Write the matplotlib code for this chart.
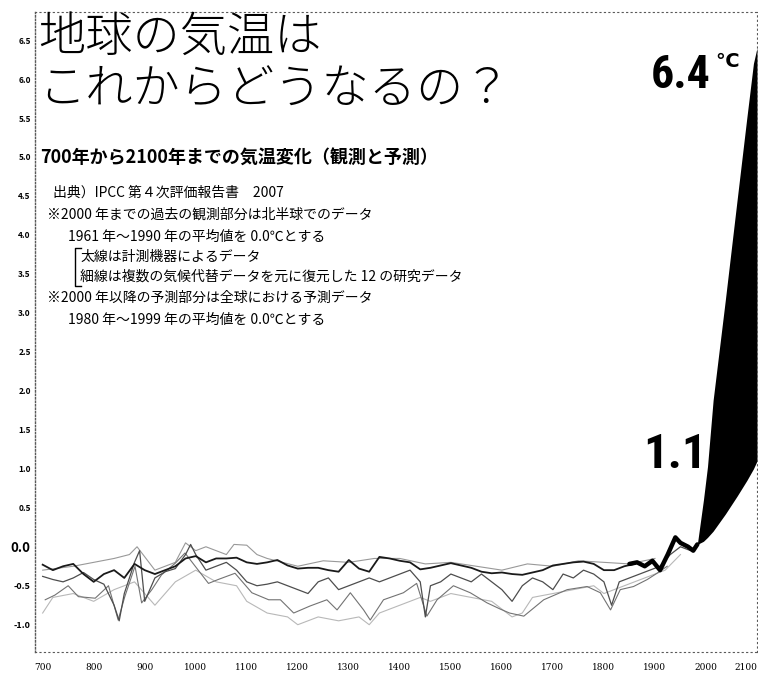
import matplotlib.pyplot as plt
from matplotlib.lines import Line2D

plt.rcParams['font.family'] = ['Noto Sans CJK JP', 'DejaVu Sans']

W, H = 758, 676

# reconstructions (years, degC)
years_a = list(range(700, 1861, 20))
temp_a = [-0.23, -0.30, -0.25, -0.22, -0.35, -0.45, -0.35, -0.30, -0.40, -0.22,
          -0.30, -0.35, -0.30, -0.25, -0.15, -0.12, -0.20, -0.15, -0.15, -0.14,
          -0.20, -0.22, -0.20, -0.17, -0.24, -0.28, -0.27, -0.27, -0.30, -0.32,
          -0.17, -0.28, -0.32, -0.13, -0.15, -0.18, -0.20, -0.29, -0.27, -0.24,
          -0.21, -0.24, -0.27, -0.32, -0.34, -0.33, -0.35, -0.36, -0.33, -0.30,
          -0.24, -0.22, -0.20, -0.19, -0.22, -0.30, -0.30, -0.25, -0.22]

years_b = [705, 724, 750, 770, 803, 829, 842, 848, 861, 881, 894, 914, 933, 960,
           979, 999, 1025, 1044, 1077, 1110, 1143, 1166, 1192, 1224, 1257, 1277,
           1303, 1329, 1342, 1368, 1407, 1433, 1453, 1473, 1505, 1538, 1571, 1597,
           1615, 1643, 1682, 1728, 1767, 1793, 1813, 1832, 1858, 1885, 1904, 1924]
temp_b = [-0.68, -0.62, -0.50, -0.64, -0.66, -0.50, -0.80, -0.94, -0.64, -0.25,
          -0.72, -0.55, -0.36, -0.21, -0.08, -0.25, -0.47, -0.42, -0.34, -0.59,
          -0.68, -0.68, -0.85, -0.76, -0.68, -0.81, -0.59, -0.81, -0.94, -0.68,
          -0.59, -0.47, -0.89, -0.68, -0.50, -0.59, -0.72, -0.80, -0.85, -0.89,
          -0.68, -0.55, -0.51, -0.59, -0.81, -0.55, -0.51, -0.42, -0.34, -0.25]

years_c = [700, 720, 740, 760, 780, 800, 820, 840, 850, 860, 880, 890, 900, 920,
           940, 960, 980, 990, 1000, 1020, 1040, 1060, 1080, 1100, 1120, 1140,
           1160, 1180, 1200, 1220, 1240, 1260, 1280, 1300, 1320, 1340, 1360, 1380,
           1400, 1420, 1440, 1450, 1460, 1480, 1500, 1520, 1540, 1560, 1580, 1600,
           1620, 1640, 1660, 1680, 1700, 1720, 1740, 1760, 1780, 1800, 1815, 1830,
           1850, 1870, 1890, 1910, 1930, 1950, 1970, 1980]
temp_c = [-0.38, -0.42, -0.45, -0.40, -0.33, -0.42, -0.48, -0.75, -0.95, -0.60,
          -0.20, -0.05, -0.70, -0.40, -0.32, -0.28, -0.10, 0.03, -0.10, -0.30,
          -0.25, -0.20, -0.30, -0.45, -0.50, -0.48, -0.45, -0.50, -0.55, -0.60,
          -0.45, -0.40, -0.55, -0.50, -0.45, -0.40, -0.45, -0.40, -0.35, -0.30,
          -0.45, -0.90, -0.50, -0.45, -0.35, -0.40, -0.45, -0.35, -0.45, -0.55,
          -0.70, -0.50, -0.40, -0.45, -0.55, -0.35, -0.40, -0.30, -0.35, -0.45,
          -0.75, -0.45, -0.40, -0.35, -0.30, -0.25, -0.10, 0.00, -0.05, 0.00]

years_d = [700, 760, 800, 840, 870, 885, 920, 960, 980, 1000, 1020, 1040, 1060,
           1075, 1100, 1120, 1140, 1200, 1250, 1300, 1350, 1400, 1450, 1500, 1550,
           1600, 1650, 1700, 1750, 1800, 1850, 1900]
temp_d = [-0.30, -0.25, -0.20, -0.15, -0.10, 0.00, -0.30, -0.20, 0.05, -0.05,
          0.00, -0.05, -0.10, 0.03, 0.02, -0.10, -0.15, -0.25, -0.18, -0.20,
          -0.15, -0.15, -0.22, -0.20, -0.25, -0.30, -0.22, -0.25, -0.18, -0.20,
          -0.22, -0.15]

years_e = [700, 720, 760, 800, 840, 880, 920, 960, 1000, 1040, 1080, 1100, 1140,
           1180, 1200, 1240, 1280, 1320, 1340, 1360, 1380, 1400, 1440, 1460, 1500,
           1540, 1580, 1620, 1640, 1660, 1700, 1740, 1780, 1800, 1840, 1880, 1920,
           1950]
temp_e = [-0.85, -0.65, -0.60, -0.70, -0.55, -0.45, -0.75, -0.45, -0.30, -0.45,
          -0.50, -0.70, -0.85, -0.90, -1.00, -0.90, -0.95, -0.90, -1.00, -0.85,
          -0.80, -0.75, -0.65, -0.70, -0.60, -0.65, -0.70, -0.90, -0.85, -0.65,
          -0.60, -0.55, -0.50, -0.60, -0.50, -0.40, -0.30, -0.10]

# instrumental (thick)
years_obs = [1850, 1865, 1880, 1895, 1910, 1925, 1940, 1950, 1965, 1975, 1983]
temp_obs = [-0.22, -0.20, -0.25, -0.18, -0.30, -0.10, 0.12, 0.05, 0.00, -0.05, 0.03]

# projection range
fan_years = [1983, 1995, 2003, 2014, 2038, 2061, 2080, 2093, 2100]
fan_high = [0.03, 0.60, 1.03, 1.88, 3.17, 4.45, 5.50, 6.20, 6.40]
fan_low = [0.03, 0.07, 0.12, 0.20, 0.42, 0.65, 0.85, 1.00, 1.10]

xticks = list(range(700, 2101, 100))
yticks = [-1.0, -0.5, 0.0, 0.5, 1.0, 1.5, 2.0, 2.5, 3.0, 3.5, 4.0, 4.5, 5.0, 5.5, 6.0, 6.5]

fig = plt.figure(figsize=(W / 100, H / 100), dpi=100)
ax = fig.add_axes([35 / W, 24 / H, 722 / W, 640 / H])

ax.plot(years_e, temp_e, color='0.72', lw=0.8)
ax.plot(years_d, temp_d, color='0.6', lw=0.8)
ax.plot(years_b, temp_b, color='0.45', lw=0.8)
ax.plot(years_c, temp_c, color='0.3', lw=0.9)
ax.plot(years_a, temp_a, color='0.1', lw=1.3)
ax.plot(years_obs, temp_obs, color='black', lw=3.2, solid_capstyle='round')
ax.fill_between(fan_years, fan_low, fan_high, color='black', lw=0)

ax.set_xlim(685, 2100)
ax.set_ylim(-1.35, 6.86)
ax.set_xticks(xticks)
ax.set_xticklabels([str(x) for x in xticks], fontsize=6.5, family='DejaVu Serif')
ax.set_yticks(yticks)
ax.set_yticklabels([f'{y:.1f}' for y in yticks], fontsize=6, fontweight='bold')
for lab in ax.get_yticklabels():
    if lab.get_text() == '0.0':
        lab.set_fontsize(9.5)
    elif lab.get_text() in ('-0.5', '-1.0'):
        lab.set_fontsize(6.5)
ax.get_xticklabels()[-1].set_horizontalalignment('right')
ax.tick_params(axis='both', length=0, pad=3)
ax.tick_params(axis='x', pad=8)

for side in ['left', 'bottom', 'top', 'right']:
    ax.spines[side].set_linestyle((0, (1, 3)))
    ax.spines[side].set_linewidth(0.8)
    ax.spines[side].set_color('0.35')
ax.spines['left'].set_linestyle((0, (1, 1.5)))
ax.spines['left'].set_linewidth(1.0)


def px(x, y):
    return x / W, 1 - y / H


fig.text(*px(38, 37), '地球の気温は', fontsize=34, fontweight='light',
         va='center', ha='left')
fig.text(*px(38, 90), 'これからどうなるの？', fontsize=34, fontweight='light',
         va='center', ha='left')

fig.text(*px(40, 157), '700年から2100年までの気温変化（観測と予測）',
         fontsize=13, fontweight='bold', va='center')

notes = [
    (53, 193, '出典）IPCC 第４次評価報告書　2007'),
    (47, 215, '※2000 年までの過去の観測部分は北半球でのデータ'),
    (68, 237, '1961 年～1990 年の平均値を 0.0℃とする'),
    (80, 257, '太線は計測機器によるデータ'),
    (80, 277, '細線は複数の気候代替データを元に復元した 12 の研究データ'),
    (47, 298, '※2000 年以降の予測部分は全球における予測データ'),
    (68, 320, '1980 年～1999 年の平均値を 0.0℃とする'),
]
for x, y, s in notes:
    fig.text(*px(x, y), s, fontsize=10, va='center', ha='left')

# bracket
bx0, by0 = px(75, 248)
bx1, by1 = px(75, 286)
bx2, _ = px(81, 248)
fig.add_artist(Line2D([bx2, bx0, bx1, bx2], [by0, by0, by1, by1],
                      color='black', lw=1.0))

big = ['Roboto Condensed', 'Roboto', 'DejaVu Sans']
fig.text(*px(711, 88), '6.4', fontsize=33, fontweight='black',
         family=big, ha='right', va='baseline')
fig.text(*px(715, 52), '℃', fontsize=14, fontweight='bold',
         family='DejaVu Sans', ha='left', va='top')
fig.text(*px(707, 468), '1.1', fontsize=35, fontweight='black',
         family=big, ha='right', va='baseline')

fig.savefig('out.png', dpi=100, facecolor='white')
